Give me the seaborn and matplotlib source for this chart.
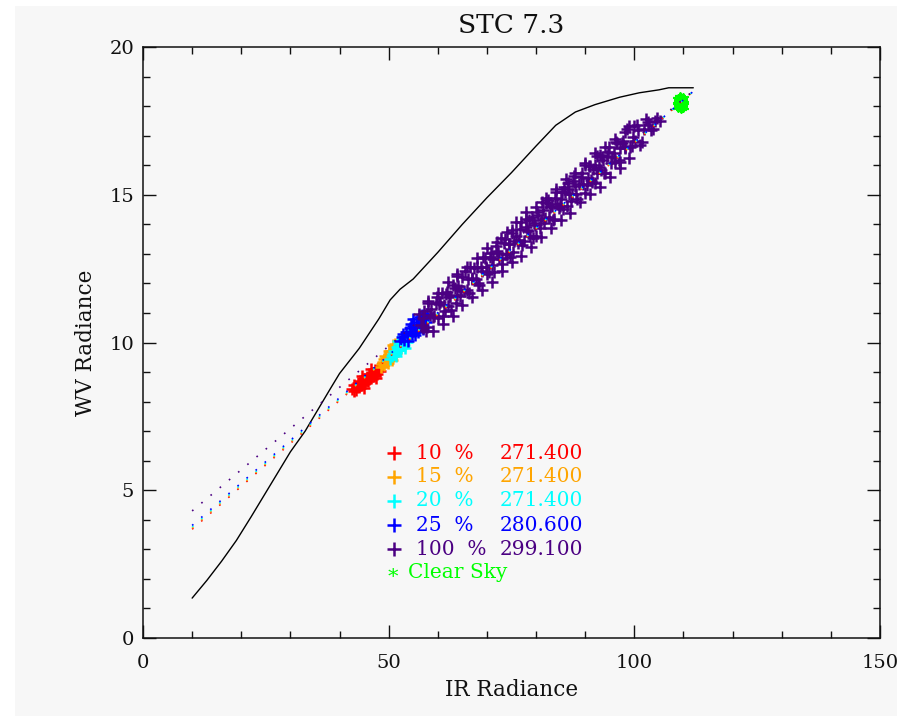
import matplotlib
matplotlib.use("Agg")
import matplotlib.pyplot as plt
from matplotlib.patches import Rectangle
from matplotlib.ticker import MultipleLocator
import seaborn as sns
import pandas as pd

# ---- data -------------------------------------------------------------
curve_x = [10, 13, 16, 19, 22, 26, 30, 33, 35.5, 38, 40, 44, 48, 50.3, 52.3,
           55, 60, 65, 70, 75, 80, 84, 88, 92, 97, 101, 105, 107, 112]
curve_y = [1.35, 1.95, 2.6, 3.3, 4.1, 5.2, 6.3, 7.0, 7.7, 8.4, 8.95, 9.8, 10.8,
           11.44, 11.8, 12.15, 13.05, 14.0, 14.9, 15.75, 16.65, 17.35, 17.8,
           18.05, 18.3, 18.45, 18.55, 18.62, 18.62]

red_x = [42.6, 43.0, 43.3, 43.7, 44.0, 44.2, 44.6, 44.9, 45.1, 45.5, 45.8, 46.0,
         46.4, 46.7, 47.0, 47.3, 47.6, 47.9, 48.2, 48.6,
         42.9, 43.5, 44.4, 45.3, 46.2, 47.1, 47.8, 45.9, 44.8, 43.9,
         44.5, 46.5, 45.0, 47.5]
red_y = [8.42, 8.55, 8.38, 8.62, 8.48, 8.70, 8.56, 8.78, 8.62, 8.84, 8.70, 8.92,
         8.80, 8.98, 8.86, 9.06, 8.95, 9.14, 9.03, 9.22,
         8.35, 8.50, 8.64, 8.72, 8.88, 8.95, 9.10, 8.78, 8.66, 8.58,
         8.88, 9.10, 8.45, 8.80]

orange_x = [48.4, 48.8, 49.1, 49.4, 49.7, 50.0, 50.3, 50.5, 50.8, 51.1, 51.4,
            51.7, 49.9, 50.9, 51.9, 48.6, 49.3, 50.1, 50.7, 51.3, 49.0]
orange_y = [9.18, 9.35, 9.25, 9.48, 9.38, 9.58, 9.46, 9.72, 9.55, 9.80, 9.66,
            9.88, 9.30, 9.92, 9.74, 9.28, 9.55, 9.70, 9.40, 9.95, 9.45]

cyan_x = [50.2, 50.6, 51.0, 51.3, 51.6, 51.9, 52.2, 52.5, 52.8, 53.1, 53.4,
          53.7, 54.0, 52.0, 53.3, 50.8, 51.5, 52.4, 53.0, 53.8, 52.6]
cyan_y = [9.45, 9.55, 9.70, 9.62, 9.85, 9.74, 9.95, 9.82, 10.08, 9.93, 10.18,
          10.02, 10.25, 10.05, 9.80, 9.60, 9.55, 9.75, 10.15, 10.10, 10.00]

blue_x = [52.3, 52.8, 53.2, 53.6, 54.0, 54.3, 54.7, 55.0, 55.4, 55.8, 56.1,
          56.5, 56.9, 57.3, 57.7, 54.9, 55.9, 56.8,
          53.0, 53.9, 54.6, 55.3, 56.3, 57.0, 57.9]
blue_y = [10.05, 10.20, 10.10, 10.35, 10.22, 10.48, 10.30, 10.55, 10.40, 10.68,
          10.50, 10.75, 10.58, 10.82, 10.70, 10.78, 10.35, 10.92,
          10.30, 10.05, 10.62, 10.25, 10.85, 10.45, 10.95]

purple_x = [56.2, 56.9, 57.0, 57.5, 58.1, 58.4, 59.0, 59.6, 60.1, 60.5, 60.8,
            61.2, 61.5, 61.8, 62.3, 62.7, 63.4, 63.9, 64.0, 64.5, 65.0, 65.3,
            66.1, 66.3, 66.6, 67.0, 67.8, 68.0, 68.2, 68.7, 69.3, 69.9, 70.4,
            70.8, 71.2, 71.5, 72.0, 72.4, 72.8, 73.1, 73.6, 74.0, 74.4, 74.7,
            75.2, 75.6, 76.3, 76.8, 77.2, 77.9, 78.0, 78.4, 78.8, 79.1, 79.5,
            80.0, 80.4, 81.1, 81.3, 81.6, 82.0, 82.7, 83.2, 83.6, 84.0, 84.3,
            84.8, 85.2, 85.5, 85.9, 86.4, 86.8, 87.1, 87.5, 88.0, 88.4, 89.1,
            89.6, 90.0, 90.4, 90.7, 91.2, 91.6, 91.9, 92.3, 92.8, 93.2, 93.5,
            93.9, 94.4, 94.8, 95.5, 96.0, 96.4, 97.0, 97.1, 97.6, 98.2, 98.9,
            99.5, 100.0, 100.2, 100.8, 101.5, 102.3, 103.0, 103.8, 104.6, 105.3,
            56.5, 57.2, 57.8, 58.6, 59.3, 59.9, 60.3, 61.0, 61.6, 62.0, 62.5,
            63.1, 63.7, 64.2, 64.8, 65.6, 66.0, 66.9, 67.4, 68.4, 69.0, 69.6,
            70.1, 70.6, 71.0, 71.8, 72.2, 73.0, 73.4, 73.9, 74.5, 75.0, 75.4,
            75.9, 76.6, 77.0, 77.5, 78.2, 78.6, 79.3, 79.8, 80.2, 80.8, 81.4,
            81.9, 82.4, 82.9, 83.4, 83.9, 84.6, 85.0, 85.7, 86.2, 86.6, 87.3,
            87.8, 88.2, 88.8, 89.4, 89.9, 90.6, 91.0, 91.4, 92.0, 92.5, 93.0,
            93.7, 94.1, 94.6, 95.2, 95.8, 96.2, 96.8, 97.4, 98.0, 98.6, 99.2,
            99.8, 100.5, 101.1, 101.9, 102.7, 103.4, 104.2,
            58.0, 62.0, 66.0, 70.0, 74.0, 78.0, 82.0, 86.0, 90.0, 94.0, 98.0,
            60.0, 64.0, 68.0, 72.0, 76.0, 80.0, 84.0, 88.0, 92.0, 96.0,
            59.0, 63.0, 67.0, 71.0, 75.0, 79.0, 83.0, 87.0, 91.0, 95.0, 99.0,
            61.0, 65.0, 69.0, 73.0, 77.0, 81.0, 85.0, 89.0, 93.0, 97.0]
purple_y = [10.95, 10.50, 10.82, 10.39, 11.33, 10.92, 10.86, 11.35, 10.82, 11.38,
            11.67, 11.28, 11.07, 11.72, 11.54, 11.10, 11.85, 11.62, 12.24, 11.56,
            12.23, 11.73, 12.14, 11.67, 12.57, 12.18, 12.14, 12.57, 12.00, 12.57,
            12.91, 12.55, 12.37, 13.03, 12.84, 12.38, 13.10, 12.86, 13.52, 12.81,
            13.49, 12.99, 13.35, 12.90, 13.82, 13.43, 13.38, 13.85, 13.31, 13.91,
            14.18, 13.79, 13.59, 14.24, 14.05, 13.62, 14.33, 14.13, 14.76, 14.05,
            14.71, 14.26, 14.63, 14.19, 15.10, 14.69, 14.62, 15.08, 14.52, 15.08,
            15.40, 15.01, 14.80, 15.46, 15.28, 14.84, 15.59, 15.37, 16.02, 15.33,
            15.98, 15.50, 15.86, 15.40, 16.31, 15.93, 15.84, 16.28, 15.74, 16.32,
            16.62, 16.27, 16.10, 16.76, 16.59, 16.11, 16.83, 16.62, 17.32, 16.66,
            17.33, 16.81, 17.20, 16.80, 17.55, 17.37, 17.23, 17.60, 17.50,
            10.60, 11.05, 10.54, 11.15, 10.90, 11.54, 11.30, 10.90, 11.64, 11.25,
            11.57, 11.96, 11.35, 11.92, 11.76, 12.42, 11.78, 12.16, 12.53, 11.93,
            12.42, 12.85, 12.33, 12.90, 12.61, 13.27, 13.03, 12.65, 13.36, 12.98,
            13.32, 13.69, 13.05, 13.62, 13.47, 14.08, 13.45, 13.81, 14.16, 13.52,
            13.99, 14.40, 13.88, 14.47, 14.20, 14.82, 14.59, 14.16, 14.89, 14.54,
            14.85, 15.25, 14.62, 15.18, 15.03, 15.65, 15.01, 15.35, 15.74, 15.06,
            15.56, 15.97, 15.43, 16.02, 15.74, 16.36, 16.16, 15.72, 16.44, 16.08,
            16.42, 16.78, 16.16, 16.75, 16.59, 17.23, 16.61, 16.95, 17.35, 16.69,
            17.21, 17.47, 17.18, 17.49,
            11.41, 12.05, 12.55, 13.21, 13.75, 14.40, 14.90, 15.54, 16.08, 16.63,
            17.14, 11.66, 12.32, 12.86, 13.40, 14.07, 14.59, 15.21, 15.73, 16.40,
            16.90,
            10.39, 10.89, 11.54, 12.04, 12.74, 13.24, 13.88, 14.39, 15.03, 15.59,
            16.23, 10.64, 11.28, 11.79, 12.43, 12.93, 13.57, 14.14, 14.76, 15.26,
            15.92]

clear_x = [108.8, 109.1, 109.4, 109.7, 110.0, 108.9, 109.3, 109.6, 109.9,
           109.2, 109.8]
clear_y = [18.00, 18.12, 17.98, 18.10, 18.02, 18.22, 18.26, 18.20, 18.25,
           18.08, 18.15]

# fitted lines for each cloud fraction: start/end points
fit_x = [10, 112]
fit_start_y = [3.68, 3.72, 3.76, 3.81, 4.30]
fit_end_y = [18.50, 18.50, 18.50, 18.50, 18.52]

fractions = ["10", "15", "20", "25", "100"]
temps = ["271.400", "271.400", "271.400", "280.600", "299.100"]
colors = ["#ff0000", "#ffa500", "#00ffff", "#0000ff", "#4b0082"]
clear_color = "#00ff00"

# ---- style -------------------------------------------------------------
sns.set_style("ticks")
plt.rcParams["font.family"] = ["DejaVu Serif"]
bg = "#f7f7f7"
ink = "#111111"

fig = plt.figure(figsize=(8.97, 7.16), dpi=100, facecolor="white")
fig.patches.append(Rectangle((15 / 897, 0), 1, 1 - 6 / 716,
                             transform=fig.transFigure, facecolor=bg,
                             edgecolor="none", zorder=-10))
ax = fig.add_axes([143 / 897, 1 - 638 / 716, (880 - 143) / 897, (638 - 47) / 716])
ax.set_facecolor(bg)

# model curve
sns.lineplot(x=curve_x, y=curve_y, sort=False, color="black", lw=1.0,
             estimator=None, ax=ax)

# scatter of each cloud fraction
groups = [(red_x, red_y), (orange_x, orange_y), (cyan_x, cyan_y),
          (blue_x, blue_y), (purple_x, purple_y)]
for (gx, gy), c in zip(groups, colors):
    df = pd.DataFrame({"ir": gx, "wv": gy})
    sns.scatterplot(data=df, x="ir", y="wv", marker="+", color=c, s=70,
                    linewidth=1.8, ax=ax, zorder=3)

# clear sky
sns.scatterplot(x=clear_x, y=clear_y, marker=(6, 2, 0), color=clear_color,
                s=55, linewidth=1.6, ax=ax, zorder=4)

# dotted fit lines
for y0, y1, c in zip(fit_start_y, fit_end_y, colors):
    ax.plot(fit_x, [y0, y1], color=c, lw=1.2, linestyle=(0, (1, 6.2)),
            dash_capstyle="butt", zorder=5)

# in-plot legend
row_y = [6.26, 5.45, 4.64, 3.82, 3.01]
for frac, t, c, yy in zip(fractions, temps, colors, row_y):
    ax.plot([51.0], [yy], marker="+", color=c, ms=9.5, mew=1.8, zorder=6)
    ax.text(55.6, yy, frac + "  %", color=c, fontsize=14.5, va="center",
            ha="left")
    ax.text(72.6, yy, t, color=c, fontsize=14.5, va="center", ha="left")
ax.text(50.9, 2.05, "*", color=clear_color, fontsize=15, va="center",
        ha="center")
ax.text(54.0, 2.20, "Clear Sky", color=clear_color, fontsize=14.5,
        va="center", ha="left")

# axes
ax.set_xlim(0, 150)
ax.set_ylim(0, 20)
ax.xaxis.set_major_locator(MultipleLocator(50))
ax.xaxis.set_minor_locator(MultipleLocator(10))
ax.yaxis.set_major_locator(MultipleLocator(5))
ax.yaxis.set_minor_locator(MultipleLocator(1))
ax.tick_params(which="both", direction="in", top=True, right=True,
               color=ink, width=1.0, labelsize=14, labelcolor=ink)
ax.tick_params(which="major", length=9.5)
ax.tick_params(which="minor", length=4.7)
ax.tick_params(axis="x", pad=11.5)
ax.tick_params(axis="y", pad=6.5)
for sp in ax.spines.values():
    sp.set_visible(True)
    sp.set_color(ink)
    sp.set_linewidth(1.1)

ax.set_title("STC 7.3", fontsize=19, color=ink, pad=10)
ax.set_xlabel("IR Radiance", fontsize=15.5, color=ink, labelpad=5)
ax.set_ylabel("WV Radiance", fontsize=15.5, color=ink, labelpad=8.5)

fig.savefig("out.png", dpi=100, facecolor="white")
